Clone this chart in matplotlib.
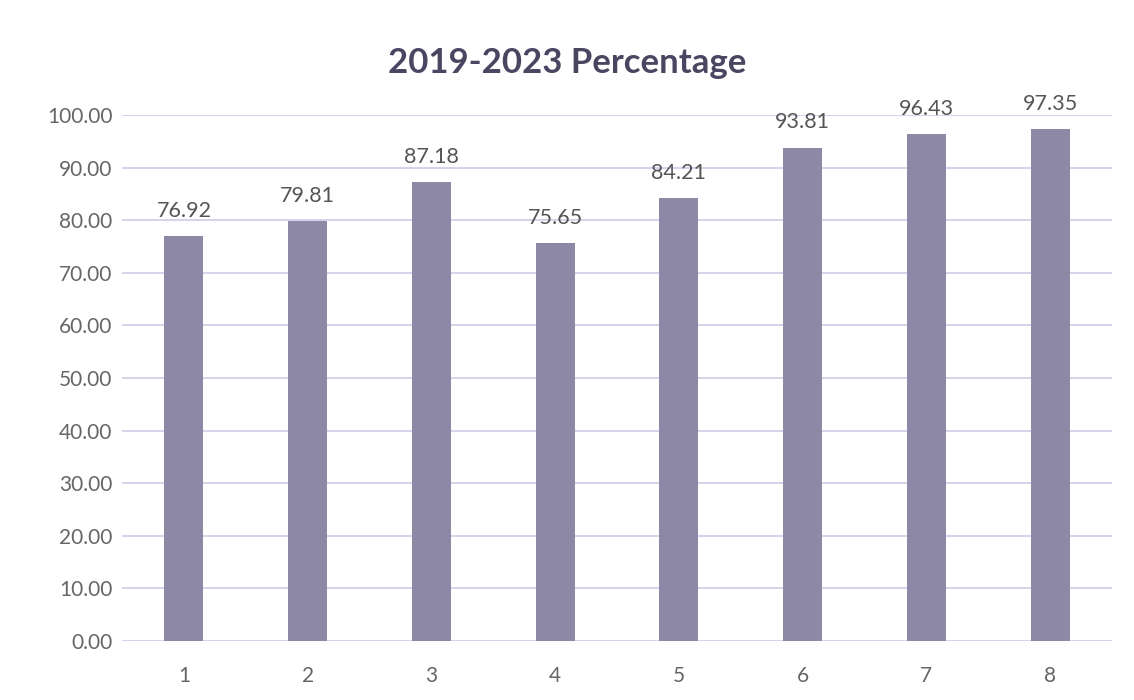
import matplotlib.pyplot as plt

categories = ["1", "2", "3", "4", "5", "6", "7", "8"]
values = [76.92, 79.81, 87.18, 75.65, 84.21, 93.81, 96.43, 97.35]
yticks = [0, 10, 20, 30, 40, 50, 60, 70, 80, 90, 100]

plt.rcParams['font.family'] = ['Lato', 'DejaVu Sans']

fig = plt.figure(figsize=(11.34, 7), dpi=100)
ax = fig.add_axes([0.1076, 0.0843, 0.873, 0.7514])

x = range(1, len(values) + 1)
bars = ax.bar(x, values, width=0.315, color="#8c88a6", zorder=3)

for xi, v in zip(x, values):
    ax.annotate(f"{v:.2f}", (xi, v), xytext=(0, 11), textcoords="offset points",
                ha="center", va="bottom", fontsize=15.5, color="#555555",
                annotation_clip=False)

ax.set_xlim(0.5, 8.5)
ax.set_ylim(0, 100)
ax.set_yticks(yticks)
ax.set_yticklabels([f"{t:.2f}" for t in yticks])
ax.set_xticks(list(x))
ax.set_xticklabels(categories)
ax.tick_params(axis="both", length=0, labelsize=15, labelcolor="#666666")
ax.tick_params(axis="x", pad=18)
ax.tick_params(axis="y", pad=7)
ax.grid(axis="y", color="#c8c8e4", linewidth=1.1, zorder=0)
for s in ax.spines.values():
    s.set_visible(False)

fig.text(0.5, 0.91, "2019-2023 Percentage", ha="center", va="center",
         fontsize=25, fontweight="bold", color="#4a4662")

fig.savefig("out.png", dpi=100)
